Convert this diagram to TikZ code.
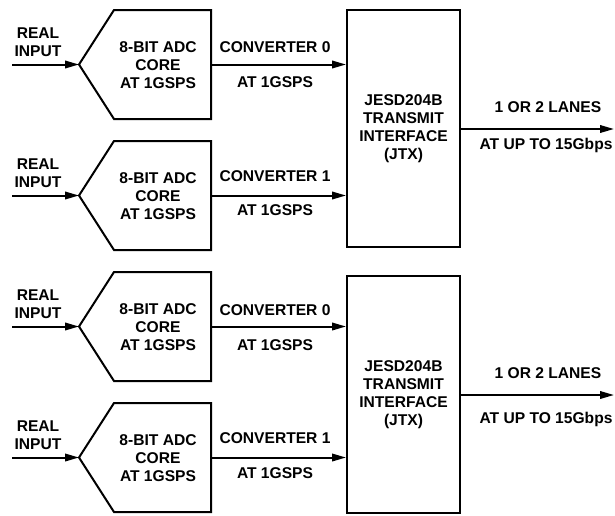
\documentclass[tikz,border=0pt]{standalone}
\usepackage{fontspec}
\setmainfont{Liberation Sans}
\usetikzlibrary{arrows.meta}
\tikzset{
  lbl/.style={font=\bfseries\fontsize{15.6}{18}\selectfont, align=center, inner sep=0pt},
  blk/.style={draw, line width=2pt},
  box/.style={draw, line width=2pt, minimum width=113pt, minimum height=237pt, inner sep=0pt,
              font=\bfseries\fontsize{15.6}{18}\selectfont, align=center},
  arr/.style={line width=2pt, -{Triangle[length=14pt,width=7.5pt]}}
}
\begin{document}
\begin{tikzpicture}[x=1pt,y=-1pt]
\useasboundingbox (0,0) rectangle (615,515);
% ADC blocks
\foreach \n/\t in {1/10,2/141,3/272,4/403}{
  \draw[blk, line join=miter] (114,\t) -- (211,\t) -- (211,\t+109) -- (114,\t+109) -- (79,\t+54.5) -- cycle;
  \coordinate (tip\n) at (79,\t+54.5);
  \coordinate (src\n) at (12,\t+54.5);
  \coordinate (out\n) at (211,\t+54.5);
  \node[lbl] (adc\n) at (158,\t+55) {8-BIT ADC\\CORE\\AT 1GSPS};
  \node[lbl] (ri\n) at (38,\t+32) {REAL\\INPUT};
}
% JTX boxes
\node[box] (jtx1) at (403.5,128.5) {JESD204B\\TRANSMIT\\INTERFACE\\(JTX)};
\node[box] (jtx2) at (403.5,394.5) {JESD204B\\TRANSMIT\\INTERFACE\\(JTX)};
% inputs
\foreach \n in {1,2,3,4}{ \draw[arr] (src\n) -- (tip\n); }
% converter arrows
\draw[arr] (out1) -- (out1 -| jtx1.west);
\draw[arr] (out2) -- (out2 -| jtx1.west);
\draw[arr] (out3) -- (out3 -| jtx2.west);
\draw[arr] (out4) -- (out4 -| jtx2.west);
\node[lbl] (c0a) at (275,47) {CONVERTER 0};
\node[lbl] (g0a) at (275,82) {AT 1GSPS};
\node[lbl] (c1a) at (275,176) {CONVERTER 1};
\node[lbl] (g1a) at (275,210) {AT 1GSPS};
\node[lbl] (c0b) at (275,310) {CONVERTER 0};
\node[lbl] (g0b) at (275,345) {AT 1GSPS};
\node[lbl] (c1b) at (275,438) {CONVERTER 1};
\node[lbl] (g1b) at (275,473) {AT 1GSPS};
% outputs
\coordinate (end1) at (614,129);
\coordinate (end2) at (614,395);
\draw[arr] (jtx1.east |- end1) -- (end1);
\draw[arr] (jtx2.east |- end2) -- (end2);
\node[lbl] (l1) at (548,107) {1 OR 2 LANES};
\node[lbl] (s1) at (546,145) {AT UP TO 15Gbps};
\node[lbl] (l2) at (548,373) {1 OR 2 LANES};
\node[lbl] (s2) at (546,419) {AT UP TO 15Gbps};
\end{tikzpicture}
\end{document}
